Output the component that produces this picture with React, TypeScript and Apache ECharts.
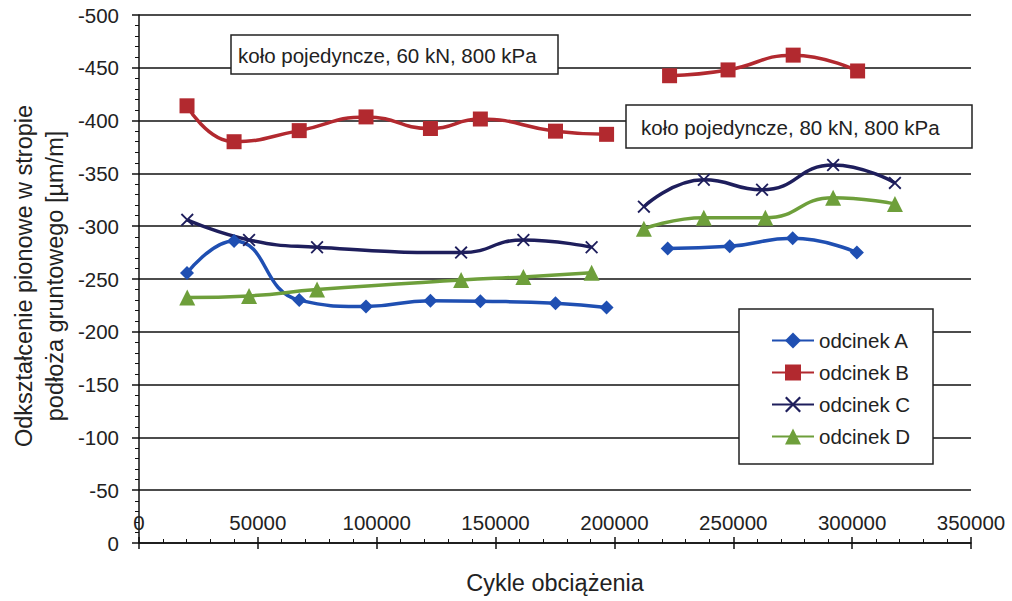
import React, { useEffect, useRef } from "react";
import * as echarts from "echarts";

const seriesNames = ["odcinek A", "odcinek B", "odcinek C", "odcinek D"];

const xA = [20200, 40000, 67400, 95500, 122600, 143600, 175200, 196700, null, 222400, 248500, 275000, 302000];
const yA = [-255.7, -286, -230, -224, -229.5, -229, -227, -223, null, -279, -281, -288.5, -275];

const xB = [20200, 40000, 67400, 95500, 122600, 143600, 175200, 196700, null, 223200, 247800, 275200, 302300];
const yB = [-414, -380, -390.5, -403.5, -392.5, -401.5, -390, -387, null, -442.5, -448, -462, -447];

const xC = [20300, 46300, 74900, 135500, 161700, 190400, null, 212400, 237600, 262100, 292000, 318000];
const yC = [-306, -287, -280, -275, -287, -280, null, -318.5, -344, -334.5, -358, -341];

const xD = [20300, 46300, 74900, 135500, 161700, 190400, null, 212400, 237600, 263500, 292000, 318000];
const yD = [-232.5, -234, -240, -249, -252, -256, null, -297.5, -308, -308, -327, -321];

const annotations = ["koło pojedyncze, 60 kN, 800 kPa", "koło pojedyncze, 80 kN, 800 kPa"];
const yTitleLines = ["Odkształcenie pionowe w stropie", "podłoża gruntowego [µm/m]"];
const xTitle = "Cykle obciążenia";

const FONT = "'Liberation Sans', Arial, sans-serif";
const FS = 20.5;
const FS_TITLE = 23.5;
const TXT = "#222";

function pairs(xs: (number | null)[], ys: (number | null)[]) {
  return xs.map((x, i) => (x == null || ys[i] == null ? null : [x, ys[i]]));
}

const CROSS = "path://M0,1 L1,0 L5,4 L9,0 L10,1 L6,5 L10,9 L9,10 L5,6 L1,10 L0,9 L4,5 Z";

export default function App() {
  const ref = useRef<HTMLDivElement>(null);
  useEffect(() => {
    if (!ref.current) return;
    const chart = echarts.init(ref.current, null, { renderer: "svg" });
    const colors = ["#1F4FB2", "#B2292F", "#1E1E5C", "#6E9F3B"];
    const symbols = ["diamond", "rect", CROSS, "triangle"];
    const sizes = [14, 15, 13, 16];
    const datas = [pairs(xA, yA), pairs(xB, yB), pairs(xC, yC), pairs(xD, yD)];
    const series = seriesNames.map((name, i) => ({
      name,
      type: "line",
      data: datas[i],
      smooth: 0.5,
      connectNulls: false,
      symbol: symbols[i],
      symbolSize: sizes[i],
      showAllSymbol: true,
      lineStyle: { color: colors[i], width: 3.5 },
      itemStyle: { color: colors[i] },
      z: 2,
    }));
    const axisCommon = {
      type: "value",
      min: 0,
      max: 350000,
      interval: 50000,
    };
    chart.setOption({
      animation: false,
      textStyle: { fontFamily: FONT },
      grid: { left: 139, right: 41, top: 15, bottom: 58 },
      xAxis: [
        {
          ...axisCommon,
          position: "bottom",
          axisLine: { onZero: false, lineStyle: { color: "#111", width: 1.5 } },
          axisTick: { show: true, inside: true, length: 6, lineStyle: { color: "#111", width: 1.5 } },
          minorTick: { show: true, splitNumber: 5, length: 4, lineStyle: { color: "#111", width: 1 } },
          axisLabel: {
            inside: true,
            margin: 10,
            color: TXT,
            fontSize: FS,
            fontFamily: FONT,
            formatter: (v: number) => String(v),
          },
          splitLine: { show: false },
          name: xTitle,
          nameLocation: "middle",
          nameGap: 28,
          nameTextStyle: { fontSize: FS_TITLE, color: TXT, fontFamily: FONT },
        },
        {
          ...axisCommon,
          position: "bottom",
          offset: 0,
          axisLine: { show: false },
          axisTick: { show: true, inside: false, length: 6, lineStyle: { color: "#111", width: 1.5 } },
          axisLabel: { show: false },
          splitLine: { show: false },
        },
      ],
      yAxis: {
        type: "value",
        inverse: true,
        min: -500,
        max: 0,
        interval: 50,
        axisLine: { show: true, onZero: false, lineStyle: { color: "#111", width: 1.5 } },
        axisTick: { show: true, length: 7, lineStyle: { color: "#111", width: 1.5 } },
        minorTick: { show: true, splitNumber: 5, length: 4, lineStyle: { color: "#111", width: 1 } },
        axisLabel: {
          margin: 20,
          color: TXT,
          fontSize: FS,
          fontFamily: FONT,
          formatter: (v: number) => String(v),
        },
        splitLine: { show: true, lineStyle: { color: "#111", width: 1.5 } },
      },
      legend: {
        orient: "vertical",
        left: 771,
        top: 330,
        padding: 0,
        itemWidth: 42,
        itemHeight: 20,
        itemGap: 11,
        data: seriesNames,
        textStyle: { fontSize: FS, color: TXT, fontFamily: FONT },
        z: 6,
      },
      graphic: [
        {
          type: "rect",
          z: 5,
          shape: { x: 739, y: 309, width: 194, height: 155 },
          style: { fill: "#fff", stroke: "#222", lineWidth: 1.5 },
        },
        {
          type: "rect",
          z: 5,
          shape: { x: 231, y: 35, width: 327, height: 39 },
          style: { fill: "#fff", stroke: "#222", lineWidth: 1.5 },
        },
        {
          type: "text",
          z: 6,
          x: 238,
          y: 55,
          style: {
            text: annotations[0],
            fontSize: FS,
            fontFamily: FONT,
            fill: TXT,
            textAlign: "left",
            textVerticalAlign: "middle",
          },
        },
        {
          type: "rect",
          z: 5,
          shape: { x: 626, y: 105, width: 346, height: 43 },
          style: { fill: "#fff", stroke: "#222", lineWidth: 1.5 },
        },
        {
          type: "text",
          z: 6,
          x: 641,
          y: 127,
          style: {
            text: annotations[1],
            fontSize: FS,
            fontFamily: FONT,
            fill: TXT,
            textAlign: "left",
            textVerticalAlign: "middle",
          },
        },
        {
          type: "text",
          z: 6,
          x: 39,
          y: 276,
          rotation: Math.PI / 2,
          style: {
            text: yTitleLines.join("\n"),
            fontSize: FS_TITLE,
            fontFamily: FONT,
            fill: TXT,
            lineHeight: 31,
            textAlign: "center",
            textVerticalAlign: "middle",
          },
        },
      ],
      series,
    });
    return () => chart.dispose();
  }, []);
  return (
    <div style={{ position: "fixed", left: 0, top: 0, width: 1012, height: 601, background: "#fff" }}>
      <div ref={ref} style={{ width: 1012, height: 601 }} />
    </div>
  );
}
